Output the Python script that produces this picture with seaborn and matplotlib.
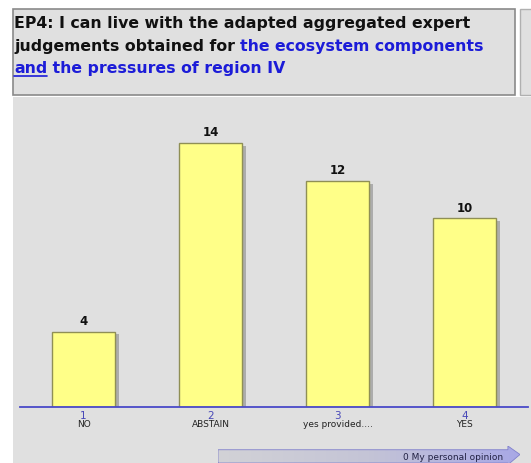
import numpy as np
import pandas as pd
import matplotlib
matplotlib.use("Agg")
import matplotlib.pyplot as plt
import seaborn as sns
from matplotlib.patches import Rectangle, Polygon
from matplotlib.colors import LinearSegmentedColormap

codes = ["1", "2", "3", "4"]
labels = ["NO", "ABSTAIN", "yes provided....", "YES"]
counts = [4, 14, 12, 10]

df = pd.DataFrame({"cat": labels, "count": counts})

sns.set_theme(style="white")
plt.rcParams["font.family"] = ["DejaVu Sans"]

W, H = 531, 463
fig = plt.figure(figsize=(W / 100, H / 100), dpi=100)
fig.patch.set_facecolor("white")

def fx(px):
    return px / W

def fy(py):
    return 1 - py / H

BG = "#e0e0e0"
# main gray panel
fig.add_artist(Rectangle((fx(13), 0), fx(531) - fx(13), fy(97), transform=fig.transFigure,
                         facecolor=BG, edgecolor="none", zorder=0))
# title box
fig.add_artist(Rectangle((fx(13), fy(95)), fx(515) - fx(13), fy(9) - fy(95), transform=fig.transFigure,
                         facecolor=BG, edgecolor="#8a8a8a", linewidth=1.2, zorder=1))
# right box
fig.add_artist(Rectangle((fx(520), fy(95)), fx(540) - fx(520), fy(9) - fy(95), transform=fig.transFigure,
                         facecolor=BG, edgecolor="#b0b0b0", linewidth=1.0, zorder=1))

# axes
ax_left, ax_right = 20, 528
ax_bottom, ax_top = 407, 110
ax = fig.add_axes([fx(ax_left), fy(ax_bottom), fx(ax_right) - fx(ax_left), fy(ax_top) - fy(ax_bottom)])
ax.set_facecolor("none")

px_per_unit = 18.86
ymax = (ax_bottom - ax_top) / px_per_unit

# shadow bars
ax.bar(np.arange(len(counts)) + 0.03, np.array(counts) - 0.05, width=0.5, bottom=-0.1,
       color="#a0a0a0", edgecolor="none", zorder=1, alpha=0.8)
sns.barplot(data=df, x="cat", y="count", ax=ax, color="#ffff88", saturation=1,
            width=0.5, edgecolor="#8f8f55", linewidth=1.0, zorder=2)

for i, v in enumerate(counts):
    ax.text(i, v + 0.2, str(v), ha="center", va="bottom", fontsize=8.5,
            fontweight="bold", color="#111111")

ax.set_xlim(-0.5, 3.5)
ax.set_ylim(0, ymax)
ax.set_xlabel("")
ax.set_ylabel("")
ax.set_yticks([])
ax.set_xticks(range(len(labels)))
ax.set_xticklabels([])
ax.tick_params(axis="x", length=0)
for s in ["top", "right", "left"]:
    ax.spines[s].set_visible(False)
ax.spines["bottom"].set_color("#4a4ac8")
ax.spines["bottom"].set_linewidth(1.3)

for i, (c, l) in enumerate(zip(codes, labels)):
    ax.annotate(c, xy=(i, 0), xycoords=("data", "axes fraction"), xytext=(0, -3),
                textcoords="offset points", ha="center", va="top", fontsize=7.5,
                color="#4848b8")
    ax.annotate(l, xy=(i, 0), xycoords=("data", "axes fraction"), xytext=(0, -9.5),
                textcoords="offset points", ha="center", va="top", fontsize=6.5,
                color="#222222")

# title text with mixed colors
BLUE = "#1c1cd8"
fs = 11.3
t1 = fig.text(fx(14), fy(28), "EP4: I can live with the adapted aggregated expert",
              fontsize=fs, fontweight="bold", color="#111111", ha="left", va="baseline")
t2 = fig.text(fx(14), fy(51), "judgements obtained for ",
              fontsize=fs, fontweight="bold", color="#111111", ha="left", va="baseline")
t3 = fig.text(0, 0, "the ecosystem components", fontsize=fs, fontweight="bold", color=BLUE,
              ha="left", va="baseline")
t4 = fig.text(fx(14), fy(73), "and", fontsize=fs, fontweight="bold", color=BLUE,
              ha="left", va="baseline")
t5 = fig.text(0, 0, " the pressures of region IV", fontsize=fs, fontweight="bold", color=BLUE,
              ha="left", va="baseline")

fig.canvas.draw()
r = fig.canvas.get_renderer()
inv = fig.transFigure.inverted()
bb2 = t2.get_window_extent(r)
x2 = inv.transform((bb2.x1, 0))[0]
t3.set_position((x2, fy(51)))
bb4 = t4.get_window_extent(r)
x4 = inv.transform((bb4.x1, 0))[0]
t5.set_position((x4, fy(73)))
x4a = inv.transform((bb4.x0, 0))[0]
fig.add_artist(plt.Line2D([x4a, x4], [fy(75.5), fy(75.5)], transform=fig.transFigure,
                          color=BLUE, linewidth=1.2))

# bottom arrow with gradient
arr = fig.add_axes([fx(218), 0, fx(520) - fx(218), fy(446)])
arr.set_xlim(0, 1)
arr.set_ylim(0, 1)
arr.axis("off")
grad = np.linspace(0, 1, 256).reshape(1, -1)
cmap = LinearSegmentedColormap.from_list("g", ["#d2d2d6", "#c4c4d6", "#a8a8e6"])
im = arr.imshow(grad, extent=(0, 1, 0, 1), aspect="auto", cmap=cmap, zorder=1)
poly = Polygon([(0, 0), (0, 0.78), (0.96, 0.78), (0.96, 1.0), (1.0, 0.5),
                (0.96, -0.1), (0.96, 0)], closed=True, transform=arr.transData,
               facecolor="none", edgecolor="#8080cc", linewidth=0.6, zorder=2)
arr.add_patch(poly)
im.set_clip_path(poly)
arr.text(0.945, 0.33, "0 My personal opinion", ha="right", va="center", fontsize=6.5,
         color="#222244")

fig.savefig("out.png", dpi=100, facecolor=fig.get_facecolor())
